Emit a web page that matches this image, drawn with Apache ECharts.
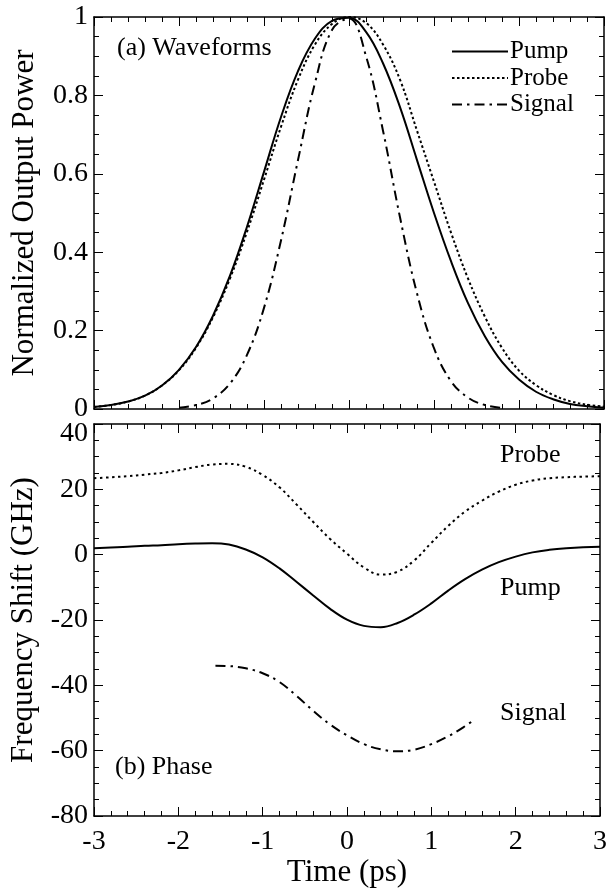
<!DOCTYPE html>
<html>
<head>
<meta charset="utf-8">
<script src="https://cdn.jsdelivr.net/npm/echarts@6/dist/echarts.min.js"></script>
<style>
html, body { margin: 0; padding: 0; background: #fff; }
#chart { width: 610px; height: 890px; }
</style>
</head>
<body>
<div id="chart"></div>
<script>
// time grid (ps) shared by pump and probe
const timeAxis = [-3, -2.8, -2.6, -2.4, -2.2, -2, -1.8, -1.6, -1.4, -1.2, -1, -0.8, -0.6, -0.4, -0.2, 0,
    0.2, 0.4, 0.6, 0.8, 1, 1.2, 1.4, 1.6, 1.8, 2, 2.2, 2.4, 2.6, 2.8, 3];

// (a) waveforms, normalized output power
const pumpPower = [0.005, 0.01, 0.019, 0.034, 0.06, 0.1, 0.158, 0.238, 0.34, 0.465, 0.605, 0.745, 0.862, 0.945, 0.99, 0.998,
    0.962, 0.882, 0.77, 0.635, 0.5, 0.377, 0.27, 0.185, 0.12, 0.075, 0.044, 0.025, 0.013, 0.007, 0.003];
const probePower = [0.005, 0.01, 0.019, 0.034, 0.06, 0.099, 0.156, 0.234, 0.333, 0.452, 0.585, 0.72, 0.84, 0.93, 0.982, 1.0,
    0.985, 0.93, 0.84, 0.71, 0.58, 0.45, 0.333, 0.235, 0.156, 0.098, 0.061, 0.036, 0.02, 0.011, 0.006];
const signalTime = [-2, -1.8, -1.6, -1.4, -1.2, -1, -0.8, -0.6, -0.4, -0.2, 0, 0.2, 0.4, 0.6, 0.8, 1, 1.2, 1.4, 1.6, 1.8];
const signalPower = [0.003, 0.01, 0.027, 0.065, 0.138, 0.258, 0.43, 0.635, 0.832, 0.967, 0.996, 0.9, 0.71, 0.489, 0.295,
    0.155, 0.071, 0.029, 0.01, 0.003];

// (b) phase, frequency shift (GHz)
const pumpShift = [2.0, 2.2, 2.4, 2.7, 2.9, 3.2, 3.4, 3.5, 3.1, 1.6, -0.8, -4.2, -8.3, -12.5, -16.6, -19.9,
    -21.8, -22.2, -20.9, -18.3, -14.9, -11.0, -7.5, -4.6, -2.3, -0.6, 0.7, 1.5, 2.0, 2.3, 2.4];
const probeShift = [23.4, 23.7, 24.0, 24.5, 25.0, 25.8, 26.8, 27.6, 27.8, 26.9, 24.4, 20.6, 15.4, 10.0, 4.8, 0.3,
    -3.9, -6.1, -5.2, -1.7, 3.6, 8.8, 13.2, 16.5, 19.3, 21.4, 22.7, 23.4, 23.7, 23.9, 24.0];
const signalShiftTime = [-1.56, -1.4, -1.2, -1, -0.8, -0.6, -0.4, -0.2, 0, 0.2, 0.4, 0.6, 0.8, 1, 1.2, 1.4, 1.52];
const signalShift = [-34, -34.1, -34.8, -36.3, -39, -43.2, -47.8, -52, -55.3, -58, -59.6, -60.2, -59.7, -58, -55.6, -52.5, -50.3];

const FONT = 'Liberation Serif';
const pair = (xs, ys) => xs.map((x, i) => [x, ys[i]]);

const chart = echarts.init(document.getElementById('chart'), null, {renderer: 'canvas'});

// shared look of a framed axis with inward ticks
function frameAxis(extra, minorSplit) {
    return Object.assign({
        type: 'value',
        axisLine: {show: true, onZero: false, lineStyle: {color: '#000', width: 1.5}},
        axisTick: {show: true, inside: true, length: 9, lineStyle: {color: '#000', width: 1}},
        minorTick: {show: true, splitNumber: minorSplit, length: 5, lineStyle: {color: '#000', width: 1}},
        splitLine: {show: false},
        axisLabel: {show: false}
    }, extra);
}

const tickLabel = {color: '#000', fontFamily: FONT, fontSize: 28};
const titleText = {color: '#000', fontFamily: FONT, fontSize: 31};

const option = {
    animation: false,
    backgroundColor: '#fff',
    grid: [
        {left: 94, top: 17, width: 510, height: 392},
        {left: 94, top: 424, width: 510, height: 392}
    ],
    xAxis: [
        frameAxis({gridIndex: 0, position: 'bottom', min: -3, max: 3, interval: 1}, 5),
        frameAxis({gridIndex: 0, position: 'top', min: -3, max: 3, interval: 1}, 5),
        frameAxis({gridIndex: 1, position: 'bottom', min: -3, max: 3, interval: 1,
            axisLabel: Object.assign({show: true, margin: 12}, tickLabel),
            name: 'Time (ps)', nameLocation: 'middle', nameGap: 35, nameTextStyle: titleText}, 5),
        frameAxis({gridIndex: 1, position: 'top', min: -3, max: 3, interval: 1}, 5)
    ],
    yAxis: [
        frameAxis({gridIndex: 0, position: 'left', min: 0, max: 1, interval: 0.2,
            axisLabel: Object.assign({show: true, margin: 6}, tickLabel),
            name: 'Normalized Output Power', nameLocation: 'middle', nameGap: 54, nameTextStyle: titleText}, 4),
        frameAxis({gridIndex: 0, position: 'right', min: 0, max: 1, interval: 0.2}, 4),
        frameAxis({gridIndex: 1, position: 'left', min: -80, max: 40, interval: 20,
            axisLabel: Object.assign({
                show: true, margin: 6,
                formatter: v => v === 40 ? '{t|40}' : String(v),
                rich: {t: {fontFamily: FONT, fontSize: 28, color: '#000', padding: [20, 0, 0, 0]}}
            }, tickLabel),
            name: 'Frequency Shift (GHz)', nameLocation: 'middle', nameGap: 54, nameTextStyle: titleText}, 4),
        frameAxis({gridIndex: 1, position: 'right', min: -80, max: 40, interval: 20}, 4)
    ],
    legend: {
        data: ['Pump', 'Probe', 'Signal'],
        orient: 'vertical',
        left: 446,
        top: 34,
        itemWidth: 56,
        itemHeight: 12,
        itemGap: 1.5,
        itemStyle: {opacity: 0},
        textStyle: {color: '#000', fontFamily: FONT, fontSize: 25, lineHeight: 25, padding: [0, 0, 0, -3]},
        selectedMode: false
    },
    series: [
        {name: 'Pump', type: 'line', xAxisIndex: 0, yAxisIndex: 0, data: pair(timeAxis, pumpPower),
            smooth: 0.4, showSymbol: false, symbol: 'none', itemStyle: {color: '#000'},
            lineStyle: {color: '#000', width: 2}},
        {name: 'Probe', type: 'line', xAxisIndex: 0, yAxisIndex: 0, data: pair(timeAxis, probePower),
            smooth: 0.4, showSymbol: false, symbol: 'none', itemStyle: {color: '#000'},
            lineStyle: {color: '#000', width: 2, type: [2.5, 2.5]}},
        {name: 'Signal', type: 'line', xAxisIndex: 0, yAxisIndex: 0, data: pair(signalTime, signalPower),
            smooth: 0.4, showSymbol: false, symbol: 'none', itemStyle: {color: '#000'},
            lineStyle: {color: '#000', width: 2, type: [10, 5, 2.5, 5]}},
        {name: 'Pump shift', type: 'line', xAxisIndex: 2, yAxisIndex: 2, data: pair(timeAxis, pumpShift),
            smooth: 0.4, showSymbol: false, symbol: 'none', itemStyle: {color: '#000'},
            lineStyle: {color: '#000', width: 2}},
        {name: 'Probe shift', type: 'line', xAxisIndex: 2, yAxisIndex: 2, data: pair(timeAxis, probeShift),
            smooth: 0.4, showSymbol: false, symbol: 'none', itemStyle: {color: '#000'},
            lineStyle: {color: '#000', width: 2, type: [2.5, 3.5]}},
        {name: 'Signal shift', type: 'line', xAxisIndex: 2, yAxisIndex: 2, data: pair(signalShiftTime, signalShift),
            smooth: 0.4, showSymbol: false, symbol: 'none', itemStyle: {color: '#000'},
            lineStyle: {color: '#000', width: 2, type: [10, 5, 2.5, 5]}}
    ],
    graphic: [
        {type: 'text', left: 117, top: 35, style: {text: '(a) Waveforms', font: '26px "Liberation Serif"', fill: '#000'}},
        {type: 'text', left: 115, top: 754, style: {text: '(b) Phase', font: '26px "Liberation Serif"', fill: '#000'}},
        {type: 'text', left: 500, top: 442, style: {text: 'Probe', font: '26px "Liberation Serif"', fill: '#000'}},
        {type: 'text', left: 500, top: 575, style: {text: 'Pump', font: '26px "Liberation Serif"', fill: '#000'}},
        {type: 'text', left: 500, top: 700, style: {text: 'Signal', font: '26px "Liberation Serif"', fill: '#000'}}
    ]
};

chart.setOption(option);
</script>
</body>
</html>
